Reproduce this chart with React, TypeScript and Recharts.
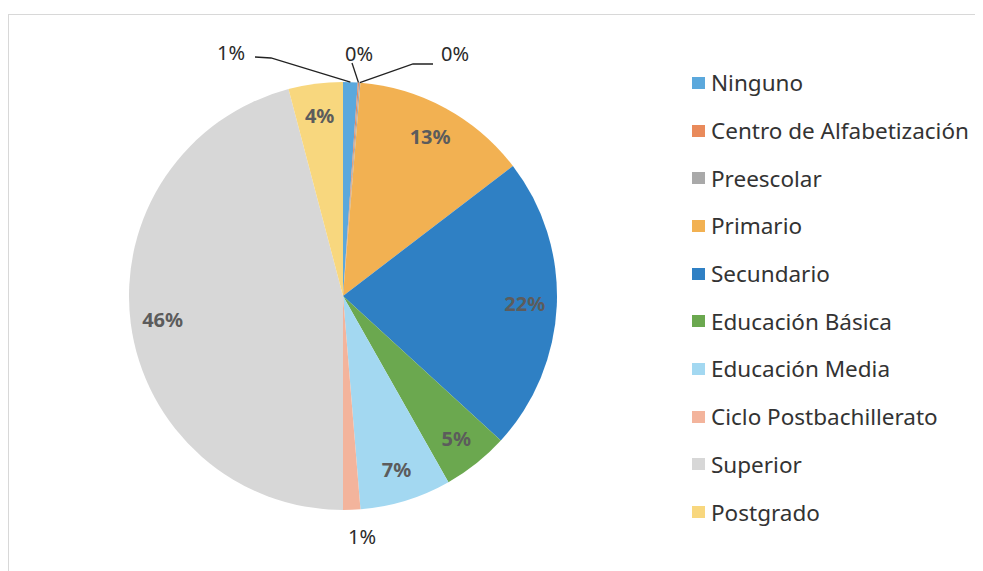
import React from 'react';
import { PieChart, Pie, Cell, Legend } from 'recharts';

// chart data
const categories = [
    'Ninguno',
    'Centro de Alfabetización',
    'Preescolar',
    'Primario',
    'Secundario',
    'Educación Básica',
    'Educación Media',
    'Ciclo Postbachillerato',
    'Superior',
    'Postgrado',
];
const values = [1.1, 0.1, 0.1, 13.3, 22.2, 5.0, 6.9, 1.3, 45.9, 4.1];
const colors = [
    '#5BA8DC', '#E98A5B', '#A9A9A9', '#F2B152', '#2F80C4',
    '#6BA84F', '#A3D8F1', '#F3B49C', '#D7D7D7', '#F8D77E',
];

const data = categories.map((name, i) => ({ name, value: values[i] }));

const RADIAN = Math.PI / 180;
const FONT = '"Noto Sans", "Open Sans", sans-serif';

// slices labelled outside the pie (text offset from center, leader points)
const outsideLabels: Record<number, { tx: number; ty: number; line: [number, number][] }> = {
    0: { tx: -112, ty: -244, line: [[-88, -239], [-72, -238]] },
    1: { tx: 16, ty: -243, line: [[9, -233]] },
    2: { tx: 112, ty: -243, line: [[90, -232], [70, -232]] },
    7: { tx: 19, ty: 240, line: [] },
};

const renderLabel = (props: any) => {
    const { cx, cy, midAngle, outerRadius, percent, index } = props;
    const text = `${Math.round(percent * 100)}%`;
    const out = outsideLabels[index];
    if (out) {
        const ex = cx + outerRadius * Math.cos(-midAngle * RADIAN);
        const ey = cy + outerRadius * Math.sin(-midAngle * RADIAN);
        const pts = out.line.map(([dx, dy]) => `${cx + dx},${cy + dy}`);
        return (
            <g>
                {pts.length > 0 && (
                    <polyline
                        points={[...pts, `${ex},${ey}`].join(' ')}
                        fill="none"
                        stroke="#222"
                        strokeWidth={1.3}
                    />
                )}
                <text
                    x={cx + out.tx}
                    y={cy + out.ty}
                    textAnchor="middle"
                    dominantBaseline="central"
                    fill="#2a2a2a"
                    fontSize={20}
                    fontFamily={FONT}
                >
                    {text}
                </text>
            </g>
        );
    }
    const r = outerRadius * 0.85;
    const x = cx + r * Math.cos(-midAngle * RADIAN);
    const y = cy + r * Math.sin(-midAngle * RADIAN);
    return (
        <text
            x={x}
            y={y}
            textAnchor="middle"
            dominantBaseline="central"
            fill="#5c5c5c"
            fontSize={20}
            fontWeight="bold"
            fontFamily={FONT}
        >
            {text}
        </text>
    );
};

const renderLegend = () => (
    <div style={{ fontFamily: FONT }}>
        {categories.map((name, i) => (
            <div
                key={name}
                style={{
                    height: 47.7,
                    display: 'flex',
                    alignItems: 'center',
                    color: '#333',
                    fontSize: 22.5,
                    whiteSpace: 'nowrap',
                }}
            >
                <span
                    style={{
                        width: 13,
                        height: 12,
                        background: colors[i],
                        display: 'inline-block',
                        marginRight: 6,
                        flexShrink: 0,
                    }}
                />
                {name}
            </div>
        ))}
    </div>
);

export default function App() {
    return (
        <div
            style={{
                marginTop: 6,
                width: 975,
                height: 557,
                borderTop: '1px solid #d8d8d8',
                borderLeft: '1px solid #d8d8d8',
                background: '#fff',
            }}
        >
            <PieChart width={974} height={556}>
                <Pie
                    data={data}
                    dataKey="value"
                    nameKey="name"
                    cx={329}
                    cy={276}
                    outerRadius={214}
                    startAngle={90}
                    endAngle={-270}
                    stroke="none"
                    label={renderLabel}
                    labelLine={false}
                    isAnimationActive={false}
                >
                    {data.map((d, i) => (
                        <Cell key={d.name} fill={colors[i]} />
                    ))}
                </Pie>
                <Legend
                    content={renderLegend}
                    layout="vertical"
                    wrapperStyle={{ position: 'absolute', left: 683, top: 44, width: 290 }}
                />
            </PieChart>
        </div>
    );
}
